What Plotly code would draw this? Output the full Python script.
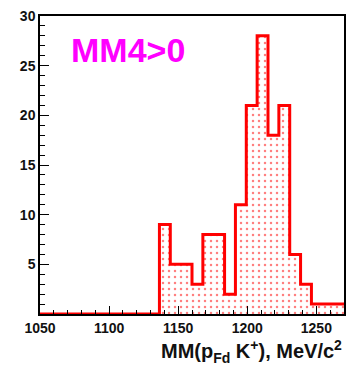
import plotly.graph_objects as go

# Missing-mass histogram, 28 equal bins between 1050 and 1270 MeV/c^2
x_min = 1050.0
x_max = 1270.0
n_bins = 28
counts = [0, 0, 0, 0, 0, 0, 0, 0, 0, 0, 0,
          9, 5, 5, 3, 8, 8, 2, 11, 21, 28, 18, 21, 6, 3, 1, 1, 1]
x_ticks = [1050, 1100, 1150, 1200, 1250]
y_ticks = [5, 10, 15, 20, 25, 30]
label_text = "MM4>0"
x_title = "MM(p<sub>Fd</sub> K<sup>+</sup>), MeV/c<sup>2</sup>"

width = (x_max - x_min) / n_bins
edges = [x_min + i * width for i in range(n_bins + 1)]
centers = [x_min + (i + 0.5) * width for i in range(n_bins)]

fig = go.Figure()

# dotted fill of the histogram body
fig.add_trace(go.Bar(
    x=centers, y=counts, width=[width] * n_bins,
    marker=dict(color="white", line=dict(width=0),
                pattern=dict(shape=".", fgcolor="#ff0000", bgcolor="white",
                             size=6, solidity=0.14)),
    hoverinfo="skip", showlegend=False,
))

# step outline
fig.add_trace(go.Scatter(
    x=edges, y=counts + [counts[-1]], mode="lines",
    line=dict(color="#ff0000", width=3, shape="hv"),
    hoverinfo="skip", showlegend=False, cliponaxis=False,
))

tick_font = dict(family="Liberation Sans, Arial, sans-serif", size=14,
                 color="#111111", weight="bold")

fig.update_xaxes(
    range=[x_min, x_max], tickvals=x_ticks, ticks="inside", ticklen=8,
    tickwidth=1, tickcolor="black", showline=True, linecolor="black",
    linewidth=1.5, mirror=True, showgrid=False, zeroline=False,
    tickfont=tick_font,
    minor=dict(dtick=10, tick0=1050, ticks="inside", ticklen=4,
               tickcolor="black", tickwidth=1, showgrid=False),
)
fig.update_yaxes(
    range=[0, 30], tickvals=y_ticks, ticks="inside", ticklen=9,
    tickwidth=1, tickcolor="black", showline=True, linecolor="black",
    linewidth=1.5, mirror=True, showgrid=False, zeroline=False,
    tickfont=tick_font,
    minor=dict(dtick=1, tick0=0, ticks="inside", ticklen=5,
               tickcolor="black", tickwidth=1, showgrid=False),
)

fig.add_annotation(
    text=label_text, xref="paper", yref="paper", x=0.094, y=0.885,
    xanchor="left", yanchor="middle", showarrow=False,
    font=dict(family="Liberation Sans, Arial, sans-serif", size=34,
              color="#ff00ff", weight="bold"),
)
fig.add_annotation(
    text=x_title, xref="paper", yref="paper", x=1.0, y=-0.069,
    xanchor="right", yanchor="top", showarrow=False,
    font=dict(family="Liberation Sans, Arial, sans-serif", size=20,
              color="#111111", weight="bold"),
)

fig.update_layout(
    width=346, height=366,
    margin=dict(l=40, r=0, t=16, b=52),
    paper_bgcolor="white", plot_bgcolor="white",
    bargap=0,
)

fig.write_html("out.html")
